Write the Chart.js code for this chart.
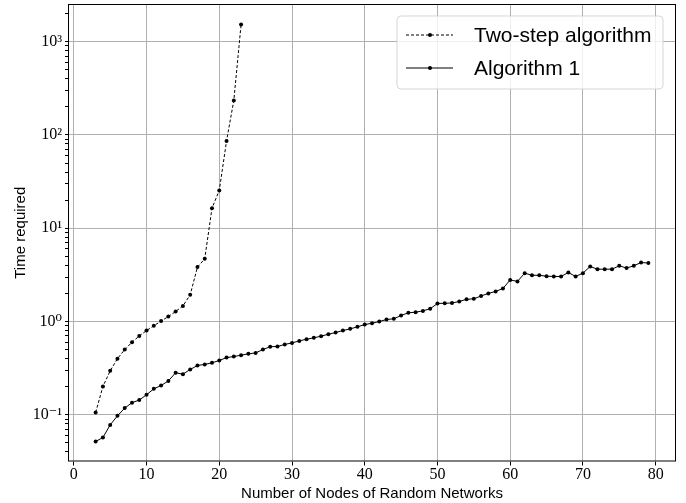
<!DOCTYPE html>
<html>
<head>
<meta charset="utf-8">
<script src="https://cdn.jsdelivr.net/npm/chart.js@4/dist/chart.umd.min.js"></script>
<style>
  html, body { margin: 0; padding: 0; background: #fff; }
  #wrap { width: 686px; height: 503px; }
</style>
</head>
<body>
<div id="wrap"><canvas id="grafico" width="686" height="503"></canvas></div>
<script>
// dados
const nosDoisPassos = [3, 4, 5, 6, 7, 8, 9, 10, 11, 12, 13, 14, 15, 16, 17, 18, 19, 20, 21, 22, 23];
const tempoDoisPassos = [0.106, 0.201, 0.296, 0.40, 0.50, 0.60, 0.70, 0.80, 0.90, 1.01, 1.13, 1.28, 1.47,
    1.93, 3.83, 4.7, 16.4, 25.4, 86, 234, 1530];

const nosAlg1 = [];
for (let n = 3; n <= 79; n++) nosAlg1.push(n);
const tempoAlg1 = [0.0518, 0.0571, 0.078, 0.0976, 0.118, 0.135, 0.144, 0.164, 0.19, 0.206,
    0.231, 0.282, 0.273, 0.306, 0.338, 0.347, 0.361, 0.382, 0.411, 0.421,
    0.436, 0.45, 0.461, 0.50, 0.537, 0.54, 0.568, 0.59, 0.62, 0.646,
    0.668, 0.697, 0.731, 0.762, 0.80, 0.834, 0.877, 0.927, 0.959, 1.0,
    1.05, 1.07, 1.16, 1.24, 1.26, 1.30, 1.37, 1.56, 1.57, 1.58,
    1.64, 1.73, 1.75, 1.88, 2.0, 2.1, 2.26, 2.79, 2.69, 3.3,
    3.13, 3.13, 3.06, 3.04, 3.04, 3.35, 3.04, 3.3, 3.89, 3.64,
    3.64, 3.64, 3.96, 3.74, 3.96, 4.29, 4.23];

const ticksX = [0, 10, 20, 30, 40, 50, 60, 70, 80];
const rotulosY = { '-1': '10⁻¹', '0': '10⁰', '1': '10¹', '2': '10²', '3': '10³' };

const pontos = (xs, ys) => xs.map((x, i) => ({ x: x, y: ys[i] }));
const ehPotencia = v => Math.abs(Math.log10(v) - Math.round(Math.log10(v))) < 1e-9;

const fonteSerif = "'Liberation Serif', 'DejaVu Serif', serif";
const fonteSans = "'Liberation Sans', 'DejaVu Sans', sans-serif";

// moldura do eixo e legenda no canto superior direito
const molduraELegenda = {
    id: 'molduraELegenda',
    afterDraw(chart) {
        const c = chart.ctx;
        const a = chart.chartArea;
        c.save();
        c.strokeStyle = '#000';
        c.lineWidth = 1;
        c.strokeRect(a.left + 0.5, a.top + 0.5, a.right - a.left - 1, a.bottom - a.top - 1);

        // caixa da legenda
        const bx = 397, by = 16, bw = 266, bh = 73, r = 4;
        c.beginPath();
        c.moveTo(bx + r, by);
        c.arcTo(bx + bw, by, bx + bw, by + bh, r);
        c.arcTo(bx + bw, by + bh, bx, by + bh, r);
        c.arcTo(bx, by + bh, bx, by, r);
        c.arcTo(bx, by, bx + bw, by, r);
        c.closePath();
        c.fillStyle = 'rgba(255,255,255,0.8)';
        c.fill();
        c.strokeStyle = 'rgba(204,204,204,0.8)';
        c.stroke();

        const linhas = [35, 68];
        chart.data.datasets.forEach((ds, i) => {
            const y = linhas[i];
            c.beginPath();
            c.setLineDash(ds.borderDash || []);
            c.strokeStyle = ds.borderColor;
            c.lineWidth = ds.borderWidth;
            c.moveTo(406, y);
            c.lineTo(453, y);
            c.stroke();
            c.setLineDash([]);
            c.beginPath();
            c.arc(430, y, 2, 0, Math.PI * 2);
            c.fillStyle = ds.pointBackgroundColor;
            c.fill();
            c.fillStyle = '#000';
            c.font = '21px ' + fonteSans;
            c.textBaseline = 'middle';
            c.fillText(ds.label, 474, y + 1);
        });
        c.restore();
    }
};

const ctx = document.getElementById('grafico').getContext('2d');
const grafico = new Chart(ctx, {
    type: 'line',
    data: {
        datasets: [{
            label: 'Two-step algorithm',
            data: pontos(nosDoisPassos, tempoDoisPassos),
            borderColor: '#000',
            backgroundColor: '#000',
            pointBackgroundColor: '#000',
            borderWidth: 1,
            borderDash: [3, 2],
            pointRadius: 2,
            pointBorderWidth: 0,
            tension: 0
        }, {
            label: 'Algorithm 1',
            data: pontos(nosAlg1, tempoAlg1),
            borderColor: '#000',
            backgroundColor: '#000',
            pointBackgroundColor: '#000',
            borderWidth: 1,
            pointRadius: 2,
            pointBorderWidth: 0,
            tension: 0
        }]
    },
    options: {
        responsive: false,
        animation: false,
        layout: { padding: { top: 4, right: 10, left: 0, bottom: 0 } },
        plugins: {
            legend: { display: false },
            tooltip: { enabled: false }
        },
        scales: {
            x: {
                type: 'linear',
                min: -0.8,
                max: 82.8,
                afterFit: s => { s.height = 41.5; s.paddingLeft = 0; s.paddingRight = 0; },
                afterBuildTicks: s => { s.ticks = ticksX.map(v => ({ value: v })); },
                ticks: {
                    color: '#000',
                    font: { family: fonteSerif, size: 16 },
                    padding: 0,
                    maxRotation: 0,
                    autoSkip: false
                },
                grid: { color: '#b0b0b0', lineWidth: 1, tickColor: '#000', tickLength: 4 },
                border: { display: false },
                title: {
                    display: true,
                    text: 'Number of Nodes of Random Networks',
                    color: '#000',
                    font: { family: fonteSans, size: 15 },
                    padding: { top: 0, bottom: 0 }
                }
            },
            y: {
                type: 'logarithmic',
                min: 0.0316,
                max: 2530,
                afterFit: s => { s.width = 68; s.paddingTop = 0; s.paddingBottom = 0; },
                afterBuildTicks: s => {
                    const lista = [];
                    for (let e = -2; e <= 3; e++) {
                        for (let m = 1; m <= 9; m++) {
                            const v = m * Math.pow(10, e);
                            if (v >= s.min && v <= s.max) lista.push({ value: v });
                        }
                    }
                    s.ticks = lista;
                },
                ticks: {
                    color: '#000',
                    font: { family: fonteSerif, size: 16 },
                    padding: 3,
                    autoSkip: false,
                    callback: v => ehPotencia(v) ? rotulosY[String(Math.round(Math.log10(v)))] : ''
                },
                grid: {
                    color: c => (c.tick && ehPotencia(c.tick.value)) ? '#b0b0b0' : 'rgba(0,0,0,0)',
                    lineWidth: 1,
                    tickColor: '#000',
                    tickLength: 3
                },
                border: { display: false },
                title: {
                    display: true,
                    text: 'Time required',
                    color: '#000',
                    font: { family: fonteSans, size: 15 },
                    padding: { top: 12, bottom: 0 }
                }
            }
        }
    },
    plugins: [molduraELegenda]
});
</script>
</body>
</html>
